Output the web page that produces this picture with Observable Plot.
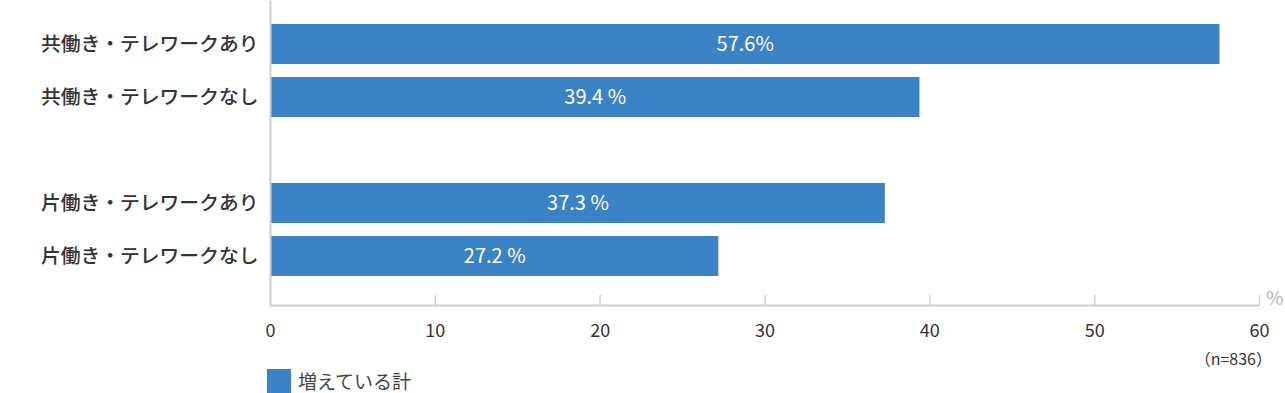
<!DOCTYPE html>
<html>
<head>
<meta charset="utf-8">
<script src="https://cdn.jsdelivr.net/npm/d3@7"></script>
<script src="https://cdn.jsdelivr.net/npm/@observablehq/plot@0.6"></script>
<style>
  html, body { margin: 0; padding: 0; background: #fff; }
  body { font-family: "Noto Sans CJK JP", "Noto Sans", sans-serif; color: #333; width: 1285px; }
  #note { text-align: right; padding-right: 13px; font-size: 16px; line-height: 18px; height: 18px; margin-top: 4px; color: #333; }
  #legend { display: flex; align-items: center; margin-left: 267px; margin-top: 2px; height: 24px; line-height: 24px; font-size: 19px; color: #444; }
  #legend .sw { width: 24px; height: 24px; background: #3a83c7; margin-right: 7px; flex: none; }
</style>
</head>
<body>
<div id="chart"></div>
<div id="note"></div>
<div id="legend"><span class="sw"></span><span id="legtext"></span></div>
<script>
const categories = ["共働き・テレワークあり", "共働き・テレワークなし", "片働き・テレワークあり", "片働き・テレワークなし"];
const values = [57.6, 39.4, 37.3, 27.2];
const valueLabels = ["57.6%", "39.4 %", "37.3 %", "27.2 %"];
const xTicks = [0, 10, 20, 30, 40, 50, 60];
const unitLabel = "%";
const sampleNote = "（n=836）";
const seriesName = "増えている計";

const SPACER = " ";
const yDomain = [categories[0], categories[1], SPACER, categories[2], categories[3]];
const data = categories.map((c, i) => ({cat: c, value: values[i], label: valueLabels[i]}));

const width = 1285, marginLeft = 270, marginRight = 26, marginTop = 0, marginBottom = 40, height = 345;
const W = width - marginLeft - marginRight, H = height - marginTop - marginBottom;
const barColor = "#3a83c7";
const lineColor = "#cfcfcf";

const chart = Plot.plot({
  width, height, marginLeft, marginRight, marginTop, marginBottom,
  style: {fontFamily: '"Noto Sans CJK JP", "Noto Sans", sans-serif', background: "#fff", overflow: "visible"},
  x: {domain: [0, 60], ticks: xTicks, label: null},
  y: {domain: yDomain, paddingInner: 0.25, paddingOuter: 0.486, align: 0.442, label: null},
  marks: [
    Plot.barX(data, {x: "value", y: "cat", fill: barColor}),
    Plot.frame({stroke: lineColor, strokeWidth: 2, strokeDasharray: `0 ${W + H} ${W + H}`}),
    Plot.axisX({ticks: xTicks, tickSize: -10, text: null, stroke: lineColor, strokeWidth: 1.5, filter: d => d !== 0, label: null}),
    Plot.axisX({ticks: xTicks, tickSize: 0, tickPadding: 19, fontSize: 18, fill: "#333", label: null}),
    Plot.axisY({tickSize: 0, tickPadding: 12, fontSize: 19.8, fill: "#333", fontWeight: 500, label: null, tickFormat: d => d.trim()}),
    Plot.text(data, {x: d => d.value / 2, y: "cat", text: "label", fill: "#fff", fontSize: 20}),
    Plot.text([unitLabel], {frameAnchor: "bottom-right", text: d => d, dx: 24, dy: -1, fill: "#b5b5b5", fontSize: 19})
  ]
});
document.getElementById("chart").appendChild(chart);
document.getElementById("note").textContent = sampleNote;
document.getElementById("legtext").textContent = seriesName;
</script>
</body>
</html>
